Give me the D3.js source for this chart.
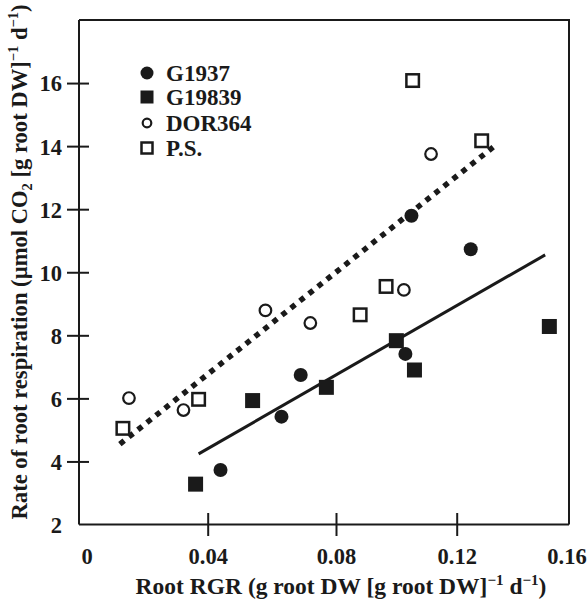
<!DOCTYPE html>
<html>
<head>
<meta charset="utf-8">
<script src="https://cdn.jsdelivr.net/npm/d3@7"></script>
<style>
  html, body { margin: 0; padding: 0; background: #fff; }
  svg { display: block; }
  text { font-family: "Liberation Serif", "Times New Roman", serif; font-weight: bold; fill: #1a1a1a; }
</style>
</head>
<body>
<svg id="chart" width="587" height="602"></svg>
<script>
// Root relative growth rate (g g^-1 d^-1) and root respiration (umol CO2 g^-1 d^-1)
const rgrG1937   = [0.044, 0.063, 0.069, 0.103, 0.105, 0.125];
const respG1937  = [3.73, 5.42, 6.74, 7.41, 11.79, 10.73];
const rgrG19839  = [0.036, 0.054, 0.077, 0.100, 0.106, 0.153];
const respG19839 = [3.28, 5.93, 6.35, 7.83, 6.90, 8.28];
const rgrDOR364  = [0.014, 0.032, 0.058, 0.072, 0.1025, 0.1115];
const respDOR364 = [6.01, 5.63, 8.79, 8.39, 9.44, 13.75];
const rgrPS      = [0.012, 0.037, 0.088, 0.0966, 0.1054, 0.1289];
const respPS     = [5.05, 5.97, 8.65, 9.55, 16.08, 14.17];

const seriesNames = ["G1937", "G19839", "DOR364", "P.S."];

// Regression lines: solid for the filled symbols, dotted for the open ones
const fitSolidX  = [0.037, 0.1515];
const fitSolidY  = [4.24, 10.55];
const fitDottedX = [0.011, 0.134];
const fitDottedY = [4.55, 14.04];

const xTickValues = [0, 0.04, 0.08, 0.12, 0.16];
const xTickLabels = ["0", "0.04", "0.08", "0.12", "0.16"];
const yTickValues = [2, 4, 6, 8, 10, 12, 14, 16];

const ink = "#1a1a1a";
const svg = d3.select("#chart");

const plotLeft = 79, plotRight = 569, plotTop = 20, plotBottom = 524.5;

// RGR axis: tick stops are spaced unevenly along the frame
const x = d3.scaleLinear()
  .domain([-0.0025, 0.04, 0.08, 0.12, 0.16])
  .range([plotLeft, 207.7, 336, 456.7, plotRight]);
const y = d3.scaleLinear().domain([2, 18]).range([plotBottom, plotTop]);

const series = [
  { name: seriesNames[0], xs: rgrG1937,  ys: respG1937,  shape: "circle", filled: true },
  { name: seriesNames[1], xs: rgrG19839, ys: respG19839, shape: "square", filled: true },
  { name: seriesNames[2], xs: rgrDOR364, ys: respDOR364, shape: "circle", filled: false },
  { name: seriesNames[3], xs: rgrPS,     ys: respPS,     shape: "square", filled: false }
];

// Frame
svg.append("path")
  .attr("d", `M${plotLeft},${plotTop}H${plotRight}V${plotBottom}`)
  .attr("fill", "none").attr("stroke", ink).attr("stroke-width", 2);

// X axis
const xAxis = d3.axisBottom(x).tickValues(xTickValues)
  .tickFormat((d, i) => xTickLabels[i]).tickSize(0).tickPadding(0);
const gx = svg.append("g").attr("transform", `translate(0,${plotBottom})`).call(xAxis);
gx.select(".domain").attr("stroke", ink).attr("stroke-width", 2)
  .attr("d", `M${plotLeft},0H${plotRight}`);
gx.selectAll(".tick line").remove();
gx.selectAll(".tick").filter(d => d > 0 && d < 0.16).append("line")
  .attr("y1", -11.5).attr("y2", 11.5).attr("stroke", ink).attr("stroke-width", 2);
gx.selectAll(".tick text")
  .attr("y", 39).attr("dy", 0)
  .attr("dx", d => d >= 0.16 ? -2.5 : 0)
  .attr("font-size", 22.5).attr("fill", ink);

// Y axis
const yAxis = d3.axisLeft(y).tickValues(yTickValues).tickSize(0).tickPadding(0);
const gy = svg.append("g").attr("transform", `translate(${plotLeft},0)`).call(yAxis);
gy.select(".domain").attr("stroke", ink).attr("stroke-width", 2)
  .attr("d", `M0,${plotTop}V${plotBottom}`);
gy.selectAll(".tick line").remove();
gy.selectAll(".tick").filter(d => d > 2).append("line")
  .attr("x1", -12).attr("x2", 10).attr("stroke", ink).attr("stroke-width", 2);
gy.selectAll(".tick text")
  .attr("x", -17).attr("dy", "0.35em")
  .attr("font-size", 22.5).attr("fill", ink);
svg.selectAll("g").attr("font-family", null).attr("font-size", null);

// Text with superscripts and subscripts
function richText(textSel, parts, size) {
  let shift = 0;
  parts.forEach(p => {
    const target = p.sup ? -size * 0.38 : p.sub ? size * 0.2 : 0;
    textSel.append("tspan").text(p.t)
      .attr("dy", target - shift)
      .attr("font-size", p.sup || p.sub ? size * 0.64 : size);
    shift = target;
  });
}

const xLabel = svg.append("text")
  .attr("x", 341).attr("y", 594)
  .attr("text-anchor", "middle").attr("font-size", 23.5);
richText(xLabel, [
  { t: "Root RGR (g root DW [g root DW]" }, { t: "\u22121", sup: true },
  { t: " d" }, { t: "\u22121", sup: true }, { t: ")" }
], 23.5);

const yLabel = svg.append("text")
  .attr("transform", `translate(27,262) rotate(-90)`)
  .attr("text-anchor", "middle").attr("font-size", 22.6);
richText(yLabel, [
  { t: "Rate of root respiration (\u00b5mol CO" }, { t: "2", sub: true },
  { t: " [g root DW]" }, { t: "\u22121", sup: true },
  { t: " d" }, { t: "\u22121", sup: true }, { t: ")" }
], 22.6);

// Fit lines
const line = d3.line().x(d => x(d[0])).y(d => y(d[1]));
svg.append("path")
  .attr("d", line(d3.zip(fitSolidX, fitSolidY)))
  .attr("fill", "none").attr("stroke", ink).attr("stroke-width", 3);
svg.append("path")
  .attr("d", line(d3.zip(fitDottedX, fitDottedY)))
  .attr("fill", "none").attr("stroke", ink).attr("stroke-width", 5.5)
  .attr("stroke-dasharray", "5.5,6");

// Symbols
function drawSymbol(g, s, cx, cy, size) {
  if (s.shape === "circle") {
    const r = s.filled ? size / 2 : size / 2 - 1.2;
    g.append("circle").attr("cx", cx).attr("cy", cy).attr("r", r)
      .attr("fill", s.filled ? ink : "#fff")
      .attr("stroke", ink).attr("stroke-width", s.filled ? 0 : 2.2);
  } else {
    const a = s.filled ? size + 1 : size - 1.5;
    g.append("rect").attr("x", cx - a / 2).attr("y", cy - a / 2)
      .attr("width", a).attr("height", a)
      .attr("fill", s.filled ? ink : "none")
      .attr("stroke", ink).attr("stroke-width", s.filled ? 0 : 2.5);
  }
}

const marks = svg.append("g");
series.forEach(s => {
  s.xs.forEach((xv, i) => drawSymbol(marks, s, x(xv), y(s.ys[i]), 14));
});

// Legend
const legendY = [73, 97, 123, 148];
const legendSize = [13, 12, 11, 12.5];
const legend = svg.append("g");
series.forEach((s, i) => {
  drawSymbol(legend, s, 147, legendY[i], legendSize[i]);
  legend.append("text").attr("x", 166).attr("y", legendY[i]).attr("dy", "0.36em")
    .attr("font-size", 23).text(s.name);
});
</script>
</body>
</html>
